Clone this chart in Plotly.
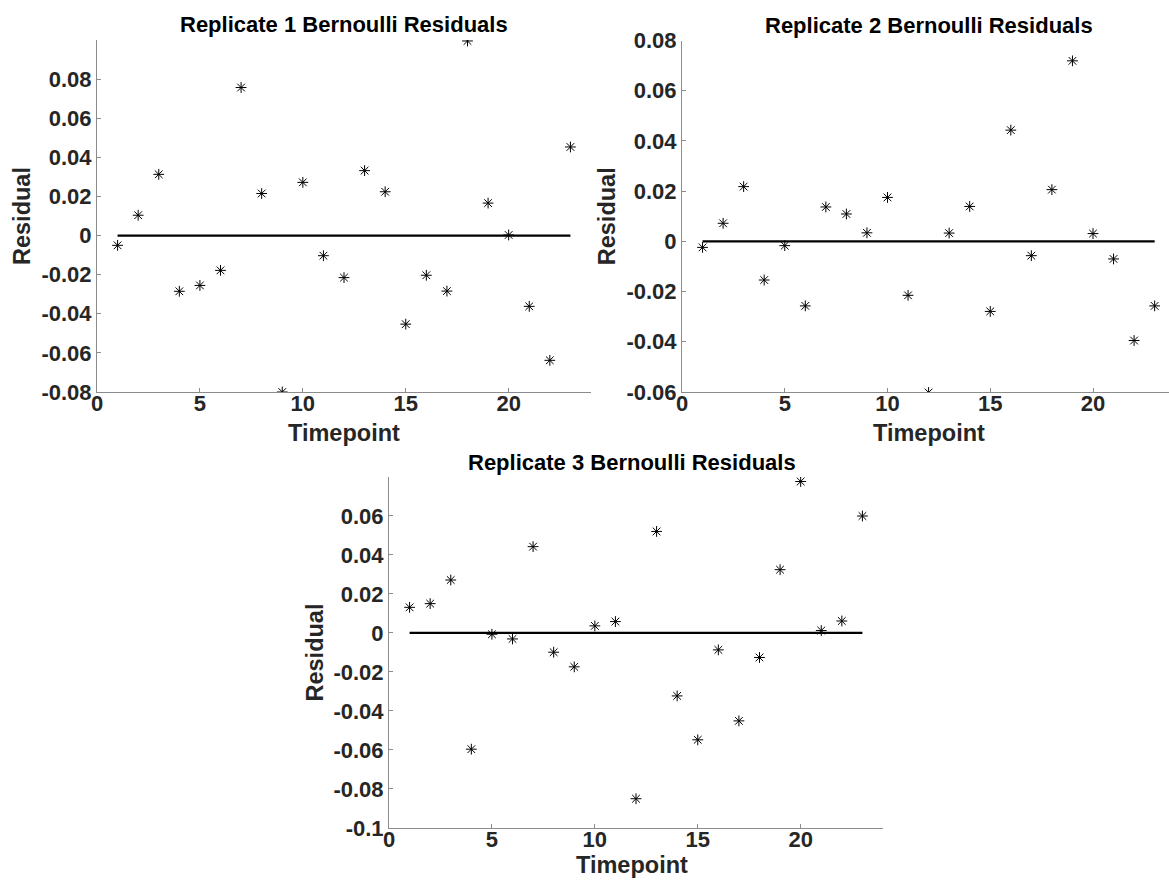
import plotly.graph_objects as go

timepoints = list(range(1, 24))

rep1_residuals = [-0.0050, 0.0104, 0.0313, -0.0285, -0.0255, -0.0178, 0.0757, 0.0215,
                  -0.0800, 0.0272, -0.0103, -0.0215, 0.0332, 0.0224, -0.0453, -0.0203,
                  -0.0284, 0.0995, 0.0166, 0.0003, -0.0362, -0.0638, 0.0453]
rep2_residuals = [-0.0024, 0.0072, 0.0218, -0.0154, -0.0017, -0.0257, 0.0137, 0.0109,
                  0.0034, 0.0175, -0.0215, -0.0602, 0.0033, 0.0139, -0.0279, 0.0443,
                  -0.0057, 0.0206, 0.0719, 0.0031, -0.0070, -0.0395, -0.0257]
rep3_residuals = [0.0131, 0.0150, 0.0271, -0.0596, -0.0007, -0.0031, 0.0442, -0.0099,
                  -0.0174, 0.0036, 0.0058, -0.0850, 0.0520, -0.0323, -0.0548, -0.0087,
                  -0.0451, -0.0126, 0.0324, 0.0776, 0.0012, 0.0061, 0.0599]

zero_x = [1, 23]
zero_y = [0, 0]

titles = ["Replicate 1 Bernoulli Residuals", "Replicate 2 Bernoulli Residuals",
          "Replicate 3 Bernoulli Residuals"]
x_label = "Timepoint"
y_label = "Residual"

x_ticks = [0, 5, 10, 15, 20]
y_ticks1 = [-0.08, -0.06, -0.04, -0.02, 0, 0.02, 0.04, 0.06, 0.08]
y_ticks2 = [-0.06, -0.04, -0.02, 0, 0.02, 0.04, 0.06, 0.08]
y_ticks3 = [-0.1, -0.08, -0.06, -0.04, -0.02, 0, 0.02, 0.04, 0.06]

def fmt(v):
    if v == 0:
        return "0"
    s = ("%.2f" % v)
    if s.endswith("0"):
        s = s[:-1]
    return s

W, H = 1169, 883
FONT = "Liberation Sans, Arial, Helvetica, sans-serif"
TXT = "#262626"
AX = "#8c8c8c"

fig = go.Figure()

series = [rep1_residuals, rep2_residuals, rep3_residuals]
for i, ys in enumerate(series):
    suffix = "" if i == 0 else str(i + 1)
    fig.add_trace(go.Scatter(
        x=zero_x, y=zero_y, mode="lines",
        line=dict(color="black", width=2.2),
        xaxis="x" + suffix, yaxis="y" + suffix, showlegend=False, hoverinfo="skip"))
    fig.add_trace(go.Scatter(
        x=timepoints, y=ys, mode="markers",
        marker=dict(symbol="asterisk-open", size=9, color="black",
                    line=dict(color="black", width=1.0)),
        xaxis="x" + suffix, yaxis="y" + suffix, showlegend=False))

# panel geometry in pixels: left, right, top, bottom, x range, y range, y ticks,
# title centre x, x-label centre y offset
panels = [
    (97, 591, 40, 392, [0, 24], [-0.08, 0.1], y_ticks1, 344, 41),
    (682, 1169, 40.5, 392, [0, (1169 - 682) / 20.55], [-0.06, 0.08], y_ticks2, 929, 41),
    (389, 883, 477, 828, [0, 24], [-0.1, 0.0799], y_ticks3, 632, 37),
]

def axis_common():
    return dict(showline=True, linecolor=AX, linewidth=1, mirror=False,
                ticks="inside", ticklen=4, tickcolor=AX, tickwidth=1,
                showgrid=False, zeroline=False, automargin=False,
                tickfont=dict(family=FONT, size=22, color=TXT, weight="bold"))

layout = {}
annotations = []
for i, (l, r, t, b, xr, yr, yt, cx, xoff) in enumerate(panels):
    suffix = "" if i == 0 else str(i + 1)
    xa = axis_common()
    xa.update(domain=[l / W, r / W], range=xr, tickvals=x_ticks,
              ticktext=[str(v) for v in x_ticks], anchor="y" + suffix,
              ticklabelstandoff=-8)
    ya = axis_common()
    ya.update(domain=[1 - b / H, 1 - t / H], range=yr, tickvals=yt,
              ticktext=[fmt(v) for v in yt], anchor="x" + suffix)
    layout["xaxis" + suffix] = xa
    layout["yaxis" + suffix] = ya
    annotations.append(dict(text="<b>%s</b>" % titles[i], x=cx / W, y=1 - (t - 15) / H,
                            xref="paper", yref="paper", xanchor="center", yanchor="middle",
                            showarrow=False, font=dict(family=FONT, size=22, color="black")))
    annotations.append(dict(text="<b>%s</b>" % x_label, x=cx / W, y=1 - (b + xoff) / H,
                            xref="paper", yref="paper", xanchor="center", yanchor="middle",
                            showarrow=False, font=dict(family=FONT, size=23.5, color=TXT)))
    annotations.append(dict(text="<b>%s</b>" % y_label, x=(l - 75) / W, y=1 - ((t + b) / 2) / H,
                            xref="paper", yref="paper", xanchor="center", yanchor="middle",
                            textangle=-90,
                            showarrow=False, font=dict(family=FONT, size=23.5, color=TXT)))

fig.update_layout(width=W, height=H, autosize=False,
                  margin=dict(l=0, r=0, t=0, b=0, pad=0),
                  paper_bgcolor="white", plot_bgcolor="white",
                  annotations=annotations, **layout)

fig.write_html("out.html",
               post_script="document.body.style.margin='0';document.body.style.padding='0';document.body.style.overflow='hidden';")
